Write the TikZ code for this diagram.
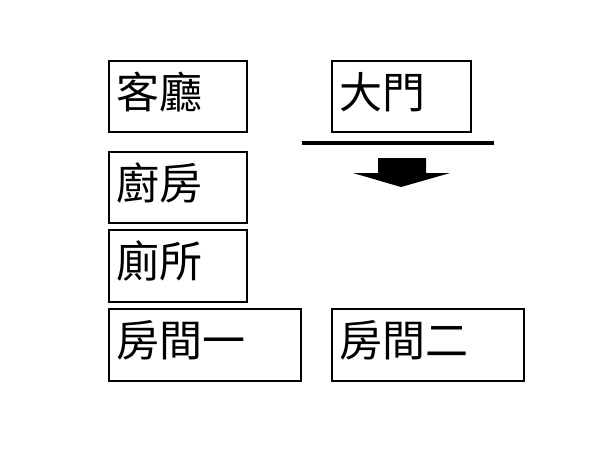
\documentclass[tikz,border=0pt]{standalone}
\usepackage{fontspec}
\newfontfamily\cjk{Noto Sans CJK TC}
\begin{document}
\begin{tikzpicture}[x=1pt,y=-1pt,
  room/.style={draw=black,line width=2pt},
  lbl/.style={anchor=west,inner sep=0pt,font=\cjk\fontsize{43}{47}\selectfont}]
\useasboundingbox (0,0) rectangle (600,450);
\fill[white] (0,0) rectangle (600,450);
\draw[room] (109,61) rectangle (247,132);
\draw[room] (332,61) rectangle (471,132);
\draw[room] (109,152) rectangle (247,223);
\draw[room] (109,230) rectangle (247,302);
\draw[room] (109,309) rectangle (301,381);
\draw[room] (332,309) rectangle (524,381);
\node[lbl] (keting) at (116,92) {客廳};
\node[lbl] (damen) at (339,92) {大門};
\node[lbl] (chufang) at (116,183) {廚房};
\node[lbl] (cesuo) at (116,261) {廁所};
\node[lbl] (fang1) at (116,340) {房間一};
\node[lbl] (fang2) at (339,340) {房間二};
\draw[line width=4pt] (302,143) -- (494,143);
\fill[black] (378,158) -- (426,158) -- (426,173) -- (450,173) -- (401,187) -- (353,173) -- (378,173) -- cycle;
\end{tikzpicture}
\end{document}
